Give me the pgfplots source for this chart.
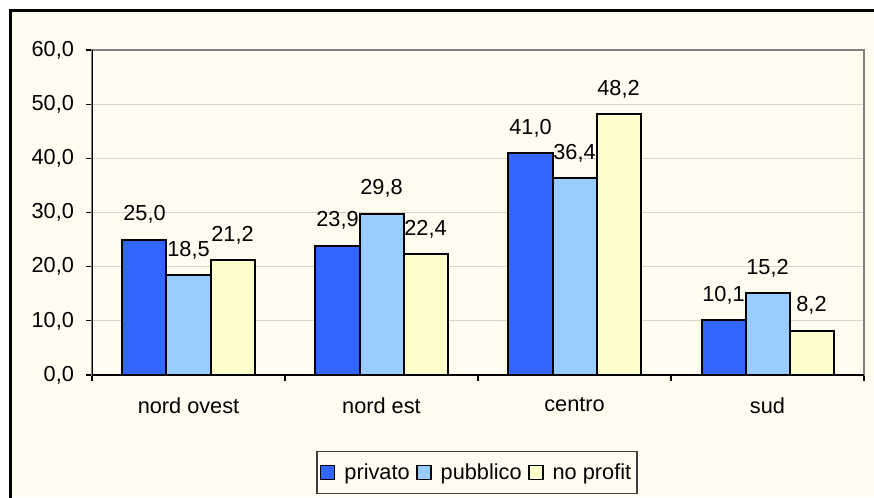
\documentclass[border=0pt]{standalone}
\usepackage{fontspec}
\setmainfont{Liberation Sans}
\usepackage{pgfplots}
\pgfplotsset{compat=1.18}
\definecolor{bgc}{HTML}{FFFDF0}
\definecolor{priv}{HTML}{3366FF}
\definecolor{pubb}{HTML}{99CCFF}
\definecolor{nopr}{HTML}{FFFFCC}
\definecolor{gridc}{HTML}{D6D6D0}
\newcommand{\lbl}{\fontsize{16.3}{19}\selectfont}
\begin{document}
\begin{tikzpicture}[x=1pt,y=1pt]
\useasboundingbox (0,0) rectangle (655.5,372.75);
\fill[white] (0,0) rectangle (655.5,372.75);
\fill[bgc] (7.9,0) rectangle (655.5,364.9);
\draw[black,line width=1.9pt] (7.9,-3) -- (7.9,364.9) -- (660,364.9);
\begin{axis}[
  at={(69pt,91.5pt)}, anchor=south west,
  scale only axis, width=579pt, height=243.75pt,
  ybar, bar width=0.228,
  xmin=-0.5, xmax=3.5, ymin=0, ymax=60,
  ytick={0,10,...,60},
  xtick={-0.5,0.5,1.5,2.5,3.5}, xticklabels={},
  extra x ticks={0,1,2,3},
  extra x tick labels={nord ovest,nord est,centro,sud},
  extra x tick style={major tick length=0pt, grid=none},
  tick align=outside, xtick pos=bottom, ytick pos=left,
  major tick length=4.5pt,
  tick style={black, line width=0.8pt},
  ymajorgrids, grid style={gridc, line width=0.9pt},
  axis line style={draw=black!50, line width=1.3pt},
  axis background/.style={fill=bgc},
  /pgf/number format/.cd, fixed, fixed zerofill, precision=1, use comma, assume math mode=true,
  /pgfplots/.cd,
  ticklabel style={font=\lbl},
  xticklabel style={yshift=-13.5pt},
  yticklabel style={xshift=-5.5pt},
  nodes near coords={\pgfmathprintnumber[fixed,fixed zerofill,precision=1,use comma,assume math mode=true]{\pgfplotspointmeta}},
  every node near coord/.append style={font=\lbl, anchor=base, yshift=14pt},
  legend columns=3,
  legend style={at={(0.4987,-0.3)}, anchor=center, draw=black!75, line width=0.9pt, fill=bgc, font=\lbl,
    inner xsep=2.3pt, inner ysep=6.8pt,
    /tikz/every even column/.append style={column sep=3pt}},
]
\addplot[draw=black, line width=1.5pt, fill=priv, bar shift=-0.228,
  legend image code/.code={\draw[draw=black,line width=1pt,fill=priv] (0pt,-5.25pt) rectangle (10.5pt,5.25pt); \path (15pt,0pt);}]
  coordinates {(0,25.0) (1,23.9) (2,41.0) (3,10.1)};
\addplot[draw=black, line width=1.5pt, fill=pubb, bar shift=0,
  legend image code/.code={\draw[draw=black,line width=1pt,fill=pubb] (0pt,-5.25pt) rectangle (10.5pt,5.25pt); \path (15pt,0pt);}]
  coordinates {(0,18.5) (1,29.8) (2,36.4) (3,15.2)};
\addplot[draw=black, line width=1.5pt, fill=nopr, bar shift=0.228,
  legend image code/.code={\draw[draw=black,line width=1pt,fill=nopr] (0pt,-5.25pt) rectangle (10.5pt,5.25pt); \path (15pt,0pt);}]
  coordinates {(0,21.2) (1,22.4) (2,48.2) (3,8.2)};
\legend{privato,pubblico,no profit}
\draw[black, line width=1.3pt] (rel axis cs:0,1) -- (rel axis cs:0,0) -- (rel axis cs:1,0);
\end{axis}
\end{tikzpicture}
\end{document}
